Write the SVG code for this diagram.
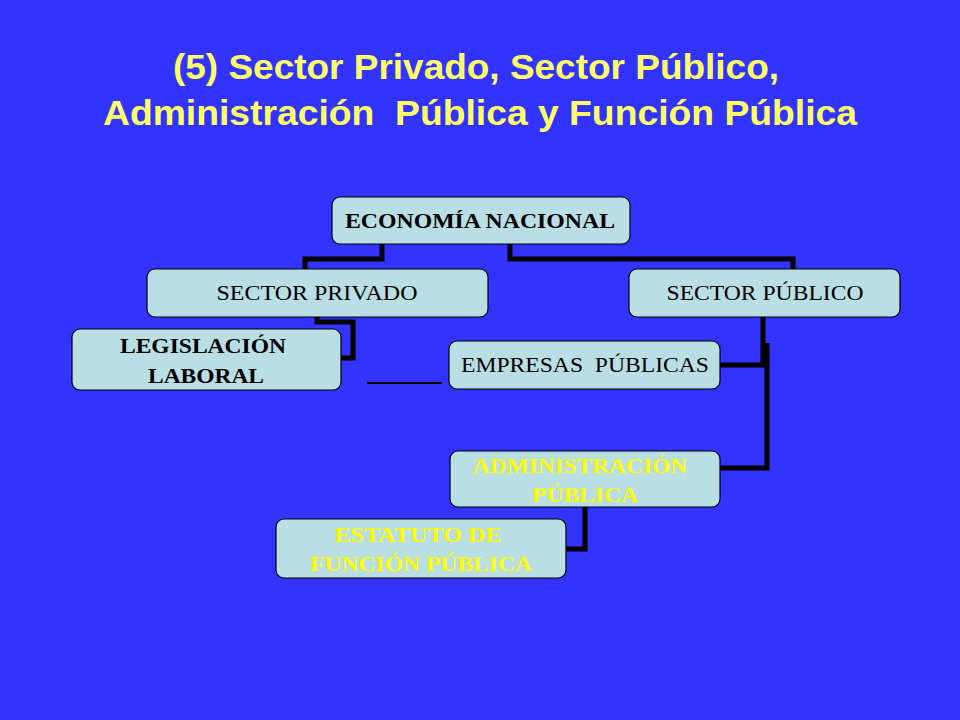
<svg xmlns="http://www.w3.org/2000/svg" width="960" height="720" viewBox="0 0 960 720">
<style>
.title{font-family:"Liberation Sans",Arial,sans-serif;font-weight:bold;font-size:35px;fill:#FFFF66;text-anchor:middle}
.box{fill:#B9DEE4;stroke:#000;stroke-width:1.2}
.t{font-family:"Liberation Serif","Times New Roman",serif;font-size:21px;fill:#000;text-anchor:middle}
.b{font-weight:bold}
.y{fill:#FFFF00;font-weight:bold}
.c{fill:none;stroke:#000;stroke-width:5;stroke-linejoin:miter}
</style>
<rect width="960" height="720" fill="#3333FF"/>
<text class="title" x="476" y="79" textLength="606" lengthAdjust="spacingAndGlyphs">(5) Sector Privado, Sector Público,</text>
<text class="title" x="480" y="125" textLength="754" lengthAdjust="spacingAndGlyphs">Administración &#160;Pública y Función Pública</text>
<g id="connectors">
<polyline class="c" points="382,244 382,259 305,259 305,269"/>
<polyline class="c" points="510,244 510,259 793,259 793,269"/>
<polyline class="c" points="317,317 317,322 353,322 353,358 341,358"/>
<line x1="367" y1="383" x2="442" y2="383" stroke="#000" stroke-width="2"/>
<polyline class="c" points="763,317 763,365 720,365"/>
<polyline class="c" points="767,343 767,468 720,468"/>
<polyline class="c" points="585,507 585,549 566,549"/>
</g>
<g id="economia">
<rect class="box" x="332" y="197" width="298" height="47" rx="8"/>
<text class="t b" x="480" y="228" textLength="270" lengthAdjust="spacingAndGlyphs">ECONOMÍA NACIONAL</text>
</g>
<g id="sector-privado">
<rect class="box" x="147" y="269" width="341" height="48" rx="8"/>
<text class="t" x="317" y="300" textLength="201" lengthAdjust="spacingAndGlyphs">SECTOR PRIVADO</text>
</g>
<g id="sector-publico">
<rect class="box" x="629" y="269" width="271" height="48" rx="8"/>
<text class="t" x="765" y="300" textLength="197" lengthAdjust="spacingAndGlyphs">SECTOR PÚBLICO</text>
</g>
<g id="legislacion">
<rect class="box" x="72" y="329" width="269" height="61" rx="8"/>
<text class="t b" x="203" y="353" textLength="166" lengthAdjust="spacingAndGlyphs">LEGISLACIÓN</text>
<text class="t b" x="206" y="383" textLength="116" lengthAdjust="spacingAndGlyphs">LABORAL</text>
</g>
<g id="empresas">
<rect class="box" x="449" y="341" width="271" height="48" rx="8"/>
<text class="t" x="585" y="372" textLength="248" lengthAdjust="spacingAndGlyphs">EMPRESAS &#160;PÚBLICAS</text>
</g>
<g id="administracion">
<rect class="box" x="450" y="451" width="270" height="56" rx="8"/>
<text class="t y" x="580" y="473" textLength="214" lengthAdjust="spacingAndGlyphs">ADMINISTRACIÓN</text>
<text class="t y" x="585" y="502" textLength="106" lengthAdjust="spacingAndGlyphs">PÚBLICA</text>
</g>
<g id="estatuto">
<rect class="box" x="276" y="519" width="290" height="59" rx="8"/>
<text class="t y" x="418" y="542" textLength="167" lengthAdjust="spacingAndGlyphs">ESTATUTO DE</text>
<text class="t y" x="421" y="571" textLength="222" lengthAdjust="spacingAndGlyphs">FUNCIÓN PÚBLICA</text>
</g>
</svg>
